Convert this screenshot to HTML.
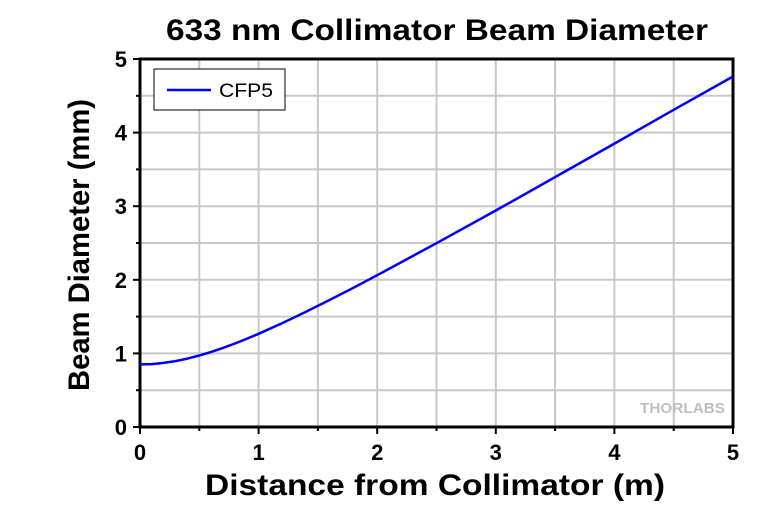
<!DOCTYPE html>
<html><head><meta charset="utf-8"><style>body{margin:0;background:#fff}svg{display:block}</style></head><body>
<svg width="780" height="511" xmlns="http://www.w3.org/2000/svg" font-family="Liberation Sans, Arial, sans-serif">
<rect width="780" height="511" fill="#fff"/>
<g stroke="#c8c8c8" stroke-width="2">
<line x1="199.3" y1="59" x2="199.3" y2="427"/><line x1="258.6" y1="59" x2="258.6" y2="427"/>
<line x1="317.9" y1="59" x2="317.9" y2="427"/><line x1="377.2" y1="59" x2="377.2" y2="427"/>
<line x1="436.5" y1="59" x2="436.5" y2="427"/><line x1="495.8" y1="59" x2="495.8" y2="427"/>
<line x1="555.1" y1="59" x2="555.1" y2="427"/><line x1="614.4" y1="59" x2="614.4" y2="427"/>
<line x1="673.7" y1="59" x2="673.7" y2="427"/>
<line x1="140" y1="95.8" x2="733" y2="95.8"/><line x1="140" y1="132.6" x2="733" y2="132.6"/>
<line x1="140" y1="169.4" x2="733" y2="169.4"/><line x1="140" y1="206.2" x2="733" y2="206.2"/>
<line x1="140" y1="243" x2="733" y2="243"/><line x1="140" y1="279.8" x2="733" y2="279.8"/>
<line x1="140" y1="316.6" x2="733" y2="316.6"/><line x1="140" y1="353.4" x2="733" y2="353.4"/>
<line x1="140" y1="390.2" x2="733" y2="390.2"/>
</g>
<text x="725" y="413" font-size="15" font-weight="bold" fill="#c0c0c0" text-anchor="end" textLength="85" lengthAdjust="spacingAndGlyphs">THORLABS</text>
<rect x="140" y="59" width="593" height="368" fill="none" stroke="#000" stroke-width="3"/>
<g stroke="#000" stroke-width="2">
<line x1="140" y1="427" x2="140" y2="434"/><line x1="199.3" y1="427" x2="199.3" y2="431"/>
<line x1="258.6" y1="427" x2="258.6" y2="434"/><line x1="317.9" y1="427" x2="317.9" y2="431"/>
<line x1="377.2" y1="427" x2="377.2" y2="434"/><line x1="436.5" y1="427" x2="436.5" y2="431"/>
<line x1="495.8" y1="427" x2="495.8" y2="434"/><line x1="555.1" y1="427" x2="555.1" y2="431"/>
<line x1="614.4" y1="427" x2="614.4" y2="434"/><line x1="673.7" y1="427" x2="673.7" y2="431"/>
<line x1="733" y1="427" x2="733" y2="434"/>
<line x1="133" y1="59" x2="140" y2="59"/><line x1="136" y1="95.8" x2="140" y2="95.8"/>
<line x1="133" y1="132.6" x2="140" y2="132.6"/><line x1="136" y1="169.4" x2="140" y2="169.4"/>
<line x1="133" y1="206.2" x2="140" y2="206.2"/><line x1="136" y1="243" x2="140" y2="243"/>
<line x1="133" y1="279.8" x2="140" y2="279.8"/><line x1="136" y1="316.6" x2="140" y2="316.6"/>
<line x1="133" y1="353.4" x2="140" y2="353.4"/><line x1="136" y1="390.2" x2="140" y2="390.2"/>
<line x1="133" y1="427" x2="140" y2="427"/>
</g>
<polyline fill="none" stroke="#0000ff" stroke-width="2.5" stroke-linejoin="round" points="140,364.4 151.9,364.1 163.7,362.9 175.6,361.1 187.4,358.6 199.3,355.5 211.2,351.9 223,347.9 234.9,343.5 246.7,338.8 258.6,333.8 282.3,323.1 306,311.8 329.8,299.9 353.5,287.8 377.2,275.2 436.5,243.2 495.8,210.5 555.1,177.1 614.4,143.6 673.7,109.8 733,76.5"/>
<rect x="154" y="69" width="131" height="41" fill="#fff" stroke="#000" stroke-width="1"/>
<line x1="167" y1="90" x2="211" y2="90" stroke="#0000ff" stroke-width="2.5"/>
<text x="219" y="97" font-size="19" textLength="54" lengthAdjust="spacingAndGlyphs">CFP5</text>
<g font-size="22" font-weight="bold" text-anchor="middle">
<text x="140" y="460">0</text><text x="258.6" y="460">1</text><text x="377.2" y="460">2</text>
<text x="495.8" y="460">3</text><text x="614.4" y="460">4</text><text x="733" y="460">5</text>
</g>
<g font-size="22" font-weight="bold" text-anchor="end">
<text x="127" y="67">5</text><text x="127" y="140.6">4</text><text x="127" y="214.2">3</text>
<text x="127" y="287.8">2</text><text x="127" y="361.4">1</text><text x="127" y="435">0</text>
</g>
<text x="166" y="40" font-size="30" font-weight="bold" textLength="542" lengthAdjust="spacingAndGlyphs">633 nm Collimator Beam Diameter</text>
<text x="205" y="495" font-size="30" font-weight="bold" textLength="460" lengthAdjust="spacingAndGlyphs">Distance from Collimator (m)</text>
<text transform="translate(89,391) rotate(-90)" font-size="30" font-weight="bold" textLength="292" lengthAdjust="spacingAndGlyphs">Beam Diameter (mm)</text>
</svg>
</body></html>
